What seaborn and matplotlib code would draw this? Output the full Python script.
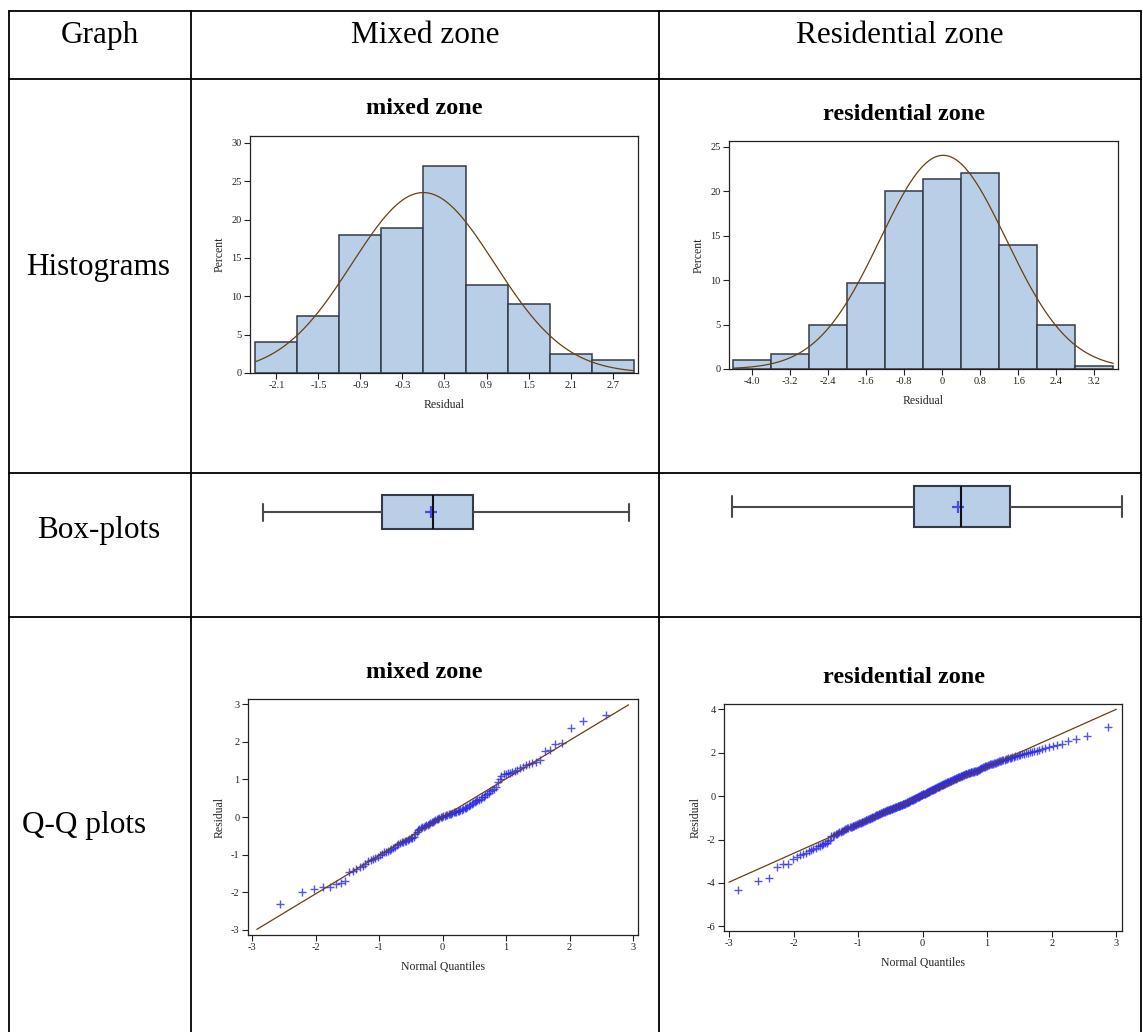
from statistics import NormalDist
import numpy as np
import matplotlib
matplotlib.use("Agg")
import matplotlib.pyplot as plt
from matplotlib.lines import Line2D
import seaborn as sns

W, H = 1143, 1032

col_headers = ["Graph", "Mixed zone", "Residential zone"]
row_labels = ["Histograms", "Box-plots", "Q-Q plots"]
zone_titles = ["mixed zone", "residential zone"]

# sorted residuals, mixed zone (n = 122)
mixed_resid = [
    -2.32, -2.00, -1.91, -1.87, -1.86, -1.79, -1.74, -1.69, -1.45, -1.43,
    -1.37, -1.33, -1.29, -1.24, -1.18, -1.15, -1.12, -1.09, -1.06, -1.00,
    -0.97, -0.94, -0.92, -0.89, -0.87, -0.85, -0.83, -0.80, -0.74, -0.71,
    -0.68, -0.67, -0.66, -0.64, -0.63, -0.61, -0.59, -0.57, -0.55, -0.52,
    -0.45, -0.40, -0.35, -0.32, -0.29, -0.27, -0.26, -0.24, -0.22, -0.20,
    -0.18, -0.16, -0.14, -0.12, -0.10, -0.08, -0.06, -0.04, -0.02, 0.00,
    0.01, 0.02, 0.03, 0.04, 0.05, 0.07, 0.08, 0.09, 0.10, 0.12,
    0.13, 0.14, 0.15, 0.16, 0.18, 0.19, 0.21, 0.23, 0.25, 0.27,
    0.29, 0.32, 0.35, 0.37, 0.40, 0.42, 0.44, 0.46, 0.49, 0.52,
    0.54, 0.58, 0.61, 0.64, 0.68, 0.72, 0.75, 0.79, 0.94, 1.02,
    1.09, 1.13, 1.15, 1.16, 1.17, 1.19, 1.22, 1.26, 1.31, 1.34,
    1.38, 1.41, 1.43, 1.45, 1.51, 1.76, 1.77, 1.94, 1.96, 2.36,
    2.56, 2.71,
]

# sorted residuals, residential zone (n = 300)
resid_resid = [
    -4.34, -3.91, -3.75, -3.26, -3.14, -3.13, -2.88, -2.82, -2.71, -2.67,
    -2.62, -2.55, -2.47, -2.42, -2.37, -2.32, -2.29, -2.25, -2.22, -2.18,
    -2.14, -2.09, -2.04, -1.86, -1.83, -1.79, -1.76, -1.73, -1.70, -1.67,
    -1.64, -1.61, -1.59, -1.56, -1.53, -1.51, -1.48, -1.46, -1.44, -1.42,
    -1.41, -1.39, -1.37, -1.36, -1.34, -1.32, -1.30, -1.28, -1.26, -1.24,
    -1.23, -1.21, -1.19, -1.17, -1.16, -1.14, -1.12, -1.10, -1.09, -1.07,
    -1.05, -1.04, -1.02, -1.00, -0.99, -0.97, -0.96, -0.94, -0.93, -0.91,
    -0.89, -0.88, -0.86, -0.85, -0.83, -0.82, -0.81, -0.79, -0.78, -0.76,
    -0.75, -0.74, -0.73, -0.71, -0.70, -0.69, -0.68, -0.66, -0.65, -0.64,
    -0.63, -0.62, -0.60, -0.59, -0.58, -0.57, -0.56, -0.55, -0.54, -0.53,
    -0.52, -0.51, -0.50, -0.49, -0.47, -0.46, -0.46, -0.45, -0.44, -0.43,
    -0.42, -0.41, -0.40, -0.38, -0.37, -0.36, -0.35, -0.34, -0.32, -0.31,
    -0.30, -0.29, -0.28, -0.26, -0.25, -0.24, -0.23, -0.21, -0.20, -0.19,
    -0.18, -0.16, -0.15, -0.14, -0.12, -0.11, -0.10, -0.09, -0.07, -0.06,
    -0.05, -0.04, -0.02, -0.01, 0.00, 0.01, 0.03, 0.04, 0.05, 0.06,
    0.08, 0.09, 0.10, 0.11, 0.12, 0.13, 0.15, 0.16, 0.17, 0.18,
    0.19, 0.20, 0.22, 0.23, 0.24, 0.26, 0.27, 0.28, 0.30, 0.31,
    0.32, 0.34, 0.35, 0.37, 0.38, 0.39, 0.41, 0.42, 0.43, 0.44,
    0.46, 0.47, 0.48, 0.50, 0.51, 0.52, 0.53, 0.55, 0.56, 0.57,
    0.58, 0.60, 0.61, 0.62, 0.63, 0.65, 0.66, 0.67, 0.68, 0.70,
    0.71, 0.72, 0.73, 0.75, 0.76, 0.77, 0.79, 0.80, 0.81, 0.82,
    0.84, 0.85, 0.86, 0.88, 0.89, 0.90, 0.91, 0.93, 0.94, 0.95,
    0.96, 0.98, 0.99, 1.00, 1.01, 1.02, 1.04, 1.05, 1.06, 1.07,
    1.08, 1.09, 1.10, 1.11, 1.12, 1.13, 1.14, 1.15, 1.16, 1.17,
    1.18, 1.19, 1.21, 1.23, 1.26, 1.28, 1.30, 1.32, 1.34, 1.36,
    1.38, 1.40, 1.41, 1.42, 1.44, 1.46, 1.47, 1.49, 1.50, 1.52,
    1.54, 1.55, 1.57, 1.59, 1.60, 1.62, 1.63, 1.65, 1.67, 1.68,
    1.70, 1.72, 1.74, 1.75, 1.77, 1.79, 1.81, 1.84, 1.86, 1.89,
    1.91, 1.93, 1.96, 1.99, 2.01, 2.03, 2.05, 2.07, 2.09, 2.12,
    2.16, 2.20, 2.25, 2.31, 2.35, 2.41, 2.54, 2.62, 2.76, 3.17,
]

mixed_edges = [-2.4, -1.8, -1.2, -0.6, 0.0, 0.6, 1.2, 1.8, 2.4, 3.0]
resid_edges = [-4.4, -3.6, -2.8, -2.0, -1.2, -0.4, 0.4, 1.2, 2.0, 2.8, 3.6]
mixed_xticks = [-2.1, -1.5, -0.9, -0.3, 0.3, 0.9, 1.5, 2.1, 2.7]
mixed_xticklabels = ["-2.1", "-1.5", "-0.9", "-0.3", "0.3", "0.9", "1.5", "2.1", "2.7"]
resid_xticks = [-4.0, -3.2, -2.4, -1.6, -0.8, 0.0, 0.8, 1.6, 2.4, 3.2]
resid_xticklabels = ["-4.0", "-3.2", "-2.4", "-1.6", "-0.8", "0", "0.8", "1.6", "2.4", "3.2"]
mixed_hist_yticks = [0, 5, 10, 15, 20, 25, 30]
resid_hist_yticks = [0, 5, 10, 15, 20, 25]
qq_xticks = [-3, -2, -1, 0, 1, 2, 3]
mixed_qq_yticks = [-3, -2, -1, 0, 1, 2, 3]
resid_qq_yticks = [-6, -4, -2, 0, 2, 4]

fill = "#B9CFE7"
edge = "#353B45"
curve = "#6B3F10"
pts = "#2B2BE8"

sns.set_style("ticks")
plt.rcParams["font.family"] = ["Liberation Serif", "DejaVu Serif"]
plt.rcParams["axes.unicode_minus"] = False
plt.rcParams["text.color"] = "black"

nd = NormalDist()
fig = plt.figure(figsize=(W / 100, H / 100), dpi=100)


def px_axes(l, t, r, b):
    return fig.add_axes([l / W, 1 - b / H, (r - l) / W, (b - t) / H])


def fx(x):
    return x / W


def fy(y):
    return 1 - y / H


# table grid
for y in [11, 79, 473, 617]:
    fig.add_artist(Line2D([fx(9), fx(1141)], [fy(y), fy(y)], color="black", lw=1.3))
for x in [9, 191, 659, 1141]:
    fig.add_artist(Line2D([fx(x), fx(x)], [fy(11), fy(1032)], color="black", lw=1.3))

for txt, cx in zip(col_headers, [100, 425, 900]):
    fig.text(fx(cx), fy(43), txt, ha="center", va="baseline", fontsize=22.5)
for txt, lx, by in zip(row_labels, [26, 37, 22], [275, 538, 833]):
    fig.text(fx(lx), fy(by), txt, ha="left", va="baseline", fontsize=22.5)

title_pos = [(424, 114), (904, 120), (424, 678), (904, 683)]
for (cx, by), txt in zip(title_pos, zone_titles * 2):
    fig.text(fx(cx), fy(by), txt, ha="center", va="baseline", fontsize=17.5, fontweight="bold")


def style(ax):
    for s in ax.spines.values():
        s.set_visible(True)
        s.set_color("#222222")
        s.set_linewidth(0.9)
    ax.tick_params(direction="out", length=4, width=0.8, labelsize=7.5, colors="#222222", pad=2)


def draw_hist(ax, resid, edges, xticks, xlabels, yticks, xlim, ylim):
    sns.histplot(x=resid, bins=edges, stat="percent", color=fill, edgecolor=edge,
                 linewidth=1.1, alpha=1, ax=ax)
    # fitted normal curve, scaled to percent per bin
    mu, sd = np.mean(resid), np.std(resid, ddof=1)
    bw = edges[1] - edges[0]
    xs = np.linspace(edges[0], edges[-1], 300)
    ys = 100 * bw * np.exp(-0.5 * ((xs - mu) / sd) ** 2) / (sd * np.sqrt(2 * np.pi))
    ax.plot(xs, ys, color=curve, lw=0.9)
    ax.set_xticks(xticks)
    ax.set_xticklabels(xlabels)
    ax.set_yticks(yticks)
    ax.set_xlim(*xlim)
    ax.set_ylim(*ylim)
    ax.set_xlabel("Residual", fontsize=8.5, labelpad=6)
    ax.set_ylabel("Percent", fontsize=8.5, labelpad=4)
    style(ax)


def draw_box(ax, resid, xlim):
    sns.boxplot(x=resid, whis=(0, 100), width=0.5, color=fill, saturation=1,
                linecolor=edge, linewidth=1.5, showfliers=False, ax=ax,
                whiskerprops={"color": "#4A4A4A"}, capprops={"color": "#4A4A4A"},
                medianprops={"color": "#111111"})
    ax.plot(np.mean(resid), 0, marker="+", ms=8, mew=1.6, color=pts, alpha=0.8)
    ax.set_xlim(*xlim)
    ax.set_ylim(0.5, -0.5)
    ax.axis("off")
    ax.patch.set_alpha(0)


def draw_qq(ax, resid, yticks, xlim, ylim, span):
    n = len(resid)
    srt = np.sort(resid)
    # Blom normal quantiles
    q = [nd.inv_cdf((i - 0.375) / (n + 0.25)) for i in range(1, n + 1)]
    sns.scatterplot(x=q, y=srt, marker="+", color=pts, s=32, linewidth=1.0, alpha=0.8, ax=ax)
    mu, sd = np.mean(resid), np.std(resid, ddof=1)
    sx = np.array(span)
    ax.plot(sx, mu + sd * sx, color=curve, lw=0.9)
    ax.set_xticks(qq_xticks)
    ax.set_yticks(yticks)
    ax.set_xlim(*xlim)
    ax.set_ylim(*ylim)
    ax.set_xlabel("Normal Quantiles", fontsize=8.5, labelpad=6)
    ax.set_ylabel("Residual", fontsize=8.5, labelpad=4)
    style(ax)


ax = px_axes(250, 136, 638, 373)
draw_hist(ax, mixed_resid, mixed_edges, mixed_xticks, mixed_xticklabels, mixed_hist_yticks,
          (-2.476, 3.062), (0, 30.9))
ax = px_axes(729, 141, 1118, 369)
draw_hist(ax, resid_resid, resid_edges, resid_xticks, resid_xticklabels, resid_hist_yticks,
          (-4.49, 3.70), (0, 25.64))

ax = px_axes(250, 478, 637, 546)
draw_box(ax, mixed_resid, (-2.494, 2.82))
ax = px_axes(720, 465, 1130, 548)
draw_box(ax, resid_resid, (-4.565, 3.33))

ax = px_axes(248, 699, 638, 935)
draw_qq(ax, mixed_resid, mixed_qq_yticks, (-3.068, 3.079), (-3.133, 3.133), [-2.93, 2.93])
ax = px_axes(724, 704, 1122, 931)
draw_qq(ax, resid_resid, resid_qq_yticks, (-3.077, 3.088), (-6.215, 4.246), [-3.0, 3.0])

fig.savefig("out.png", dpi=100)
